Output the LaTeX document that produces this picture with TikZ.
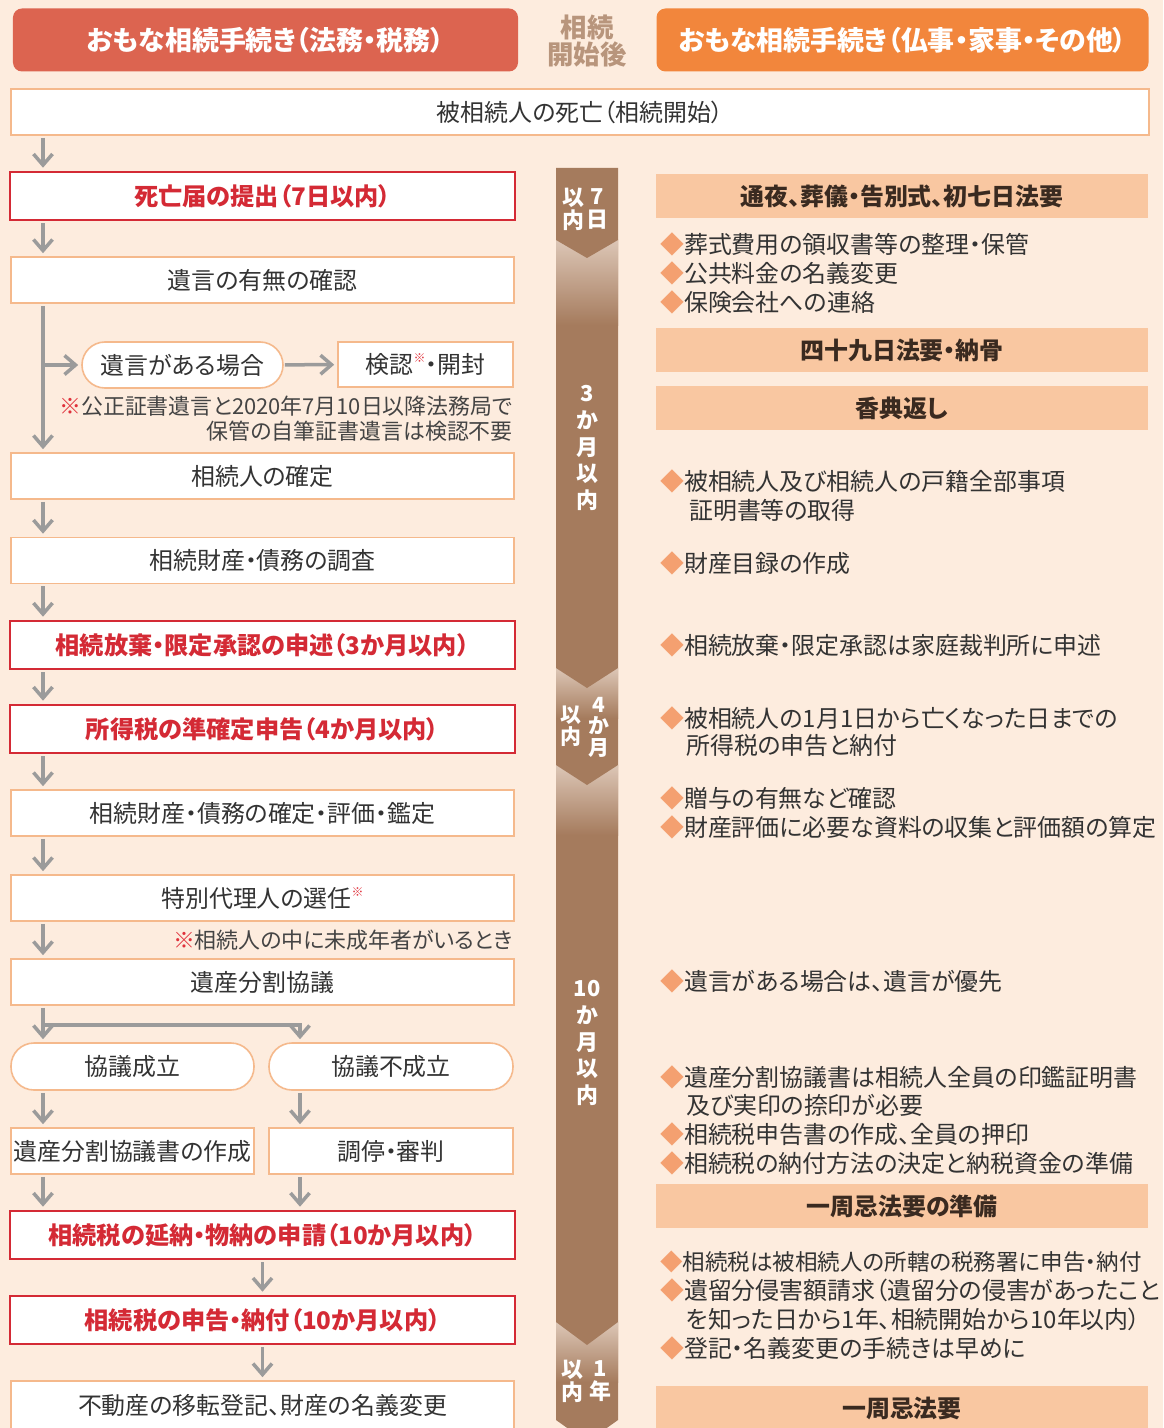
\documentclass[tikz,border=0pt]{standalone}
\usepackage{fontspec}
\setmainfont{Noto Sans CJK JP}[RawFeature=+palt]
\usepackage{tikz}
\usetikzlibrary{arrows.meta}

\definecolor{bgpeach}{HTML}{FDECDE}
\definecolor{lawhead}{HTML}{DC6450}
\definecolor{otherhead}{HTML}{F2863C}
\definecolor{startcol}{HTML}{B8957C}
\definecolor{boxline}{HTML}{F5B98C}
\definecolor{stepred}{HTML}{D42A35}
\definecolor{komered}{HTML}{E0303A}
\definecolor{flowgrey}{HTML}{9B9B9B}
\definecolor{textdark}{HTML}{333333}
\definecolor{notetext}{HTML}{444444}
\definecolor{evfill}{HTML}{F9C7A1}
\definecolor{evtext}{HTML}{3A2A20}
\definecolor{diam}{HTML}{F4A070}
\definecolor{barbrown}{HTML}{A57B5D}
\definecolor{barlight}{HTML}{DCC6B6}

\newcommand\kome{{\color{komered}※}}
\newcommand\supkome{\raisebox{.45em}{\fontsize{12}{12}\selectfont\color{komered}※}}
\newcommand\dia{{\color{diam}◆}}

\begin{document}
\begin{tikzpicture}[
    x=1bp, y=-1bp,
    every node/.style={text=textdark, inner sep=0pt},
    hdr/.style={rectangle, rounded corners=9bp, text=white, minimum height=63bp, font=\fontsize{27}{30}\selectfont\bfseries},
    stepbox/.style={rectangle, draw=boxline, line width=1.6bp, fill=white, minimum width=503bp, minimum height=46bp, font=\fontsize{24}{28}\selectfont},
    redbox/.style={stepbox, draw=stepred, line width=2.6bp, text=stepred, minimum width=505bp, minimum height=48bp, font=\fontsize{24.3}{28}\selectfont\bfseries},
    pill/.style={stepbox, rounded corners=23bp},
    evhd/.style={rectangle, fill=evfill, minimum width=492bp, minimum height=44bp, text=evtext, font=\fontsize{24}{28}\selectfont\bfseries},
    item/.style={anchor=west, font=\fontsize{24}{28}\selectfont},
    note/.style={anchor=east, text=notetext, font=\fontsize{22}{26}\selectfont},
    bartxt/.style={align=center, text=white, font=\fontsize{22}{23}\selectfont\bfseries},
    flow/.style={draw=flowgrey, line width=3.5bp, -{Straight Barb[length=11bp,width=19bp]}, shorten >=3bp, shorten <=2bp}
]
\useasboundingbox (0,0) rectangle (1163,1428);
\fill[bgpeach] (0,0) rectangle (1163,1428);

% Headers
\node[hdr, fill=lawhead, minimum width=505bp] (hlaw) at (265.5,40) {おもな相続手続き（法務・税務）};
\node[hdr, fill=otherhead, minimum width=492bp] (hother) at (902.5,40) {おもな相続手続き（仏事・家事・その他）};
\node[align=center, text=startcol, font=\fontsize{26.5}{28}\selectfont\bfseries] (after) at (587,41) {相続\\開始後};

% Start of inheritance
\node[stepbox, minimum width=1138bp] (start) at (580,112) {被相続人の死亡（相続開始）};

% Timeline bar
\foreach \ya/\yb/\yc/\fh in {1322/1420/1442/60, 765/1322/1345/70, 668/765/785/50, 240/668/688/85}{
  \fill[barbrown] (556,\ya) -- (618,\ya) -- (618,\yb) -- (587,\yc) -- (556,\yb) -- cycle;
  \shade[top color=barlight, bottom color=barbrown] (556,\ya) rectangle (618,\ya+\fh);
}
\fill[barbrown] (556,168) -- (618,168) -- (618,240) -- (587,258) -- (556,240) -- cycle;

\node[bartxt] (d7l) at (573,209) {以\\内};
\node[bartxt] (d7r) at (597,209) {7\\日};
\node[bartxt, font=\fontsize{22}{26.75}\selectfont\bfseries] (m3) at (587,448) {3\\か\\月\\以\\内};
\node[bartxt, font=\fontsize{21}{21.5}\selectfont\bfseries] (m4r) at (599,727) {4\\か\\月};
\node[bartxt, font=\fontsize{21}{21.5}\selectfont\bfseries] (m4l) at (571,726) {以\\内};
\node[bartxt, font=\fontsize{22}{26.75}\selectfont\bfseries] (m10) at (587,1043) {10\\か\\月\\以\\内};
\node[bartxt] (y1l) at (572,1381) {以\\内};
\node[bartxt] (y1r) at (600,1381) {1\\年};

% Legal and tax steps
\node[redbox] (deathreg) at (262.5,196) {死亡届の提出（7日以内）};
\node[stepbox] (willchk) at (262.5,280) {遺言の有無の確認};
\node[pill, minimum width=201bp] (haswill) at (182.5,365) {遺言がある場合};
\node[stepbox, minimum width=175bp, minimum height=45bp] (probate) at (425.5,364.5) {検認\supkome・開封};
\node[note] (note1a) at (513,406) {\kome 公正証書遺言と2020年7月10日以降法務局で};
\node[note] (note1b) at (513,431) {保管の自筆証書遺言は検認不要};
\node[stepbox] (heirs) at (262.5,476) {相続人の確定};
\node[stepbox] (survey) at (262.5,560.5) {相続財産・債務の調査};
\node[redbox] (renounce) at (262.5,645) {相続放棄・限定承認の申述（3か月以内）};
\node[redbox] (incometax) at (262.5,729) {所得税の準確定申告（4か月以内）};
\node[stepbox] (valuation) at (262.5,813) {相続財産・債務の確定・評価・鑑定};
\node[stepbox] (agent) at (262.5,898) {特別代理人の選任\supkome};
\node[note] (note2) at (513,940) {\kome 相続人の中に未成年者がいるとき};
\node[stepbox] (division) at (262.5,982) {遺産分割協議};
\node[pill, minimum width=243bp, minimum height=47bp] (agreed) at (132.5,1066.5) {協議成立};
\node[pill, minimum width=244bp, minimum height=47bp] (disagreed) at (391,1066.5) {協議不成立};
\node[stepbox, minimum width=243bp] (deed) at (132.5,1151) {遺産分割協議書の作成};
\node[stepbox, minimum width=244bp] (mediation) at (391,1151) {調停・審判};
\node[redbox] (deferral) at (262.5,1235) {相続税の延納・物納の申請（10か月以内）};
\node[redbox] (taxreturn) at (262.5,1320) {相続税の申告・納付（10か月以内）};
\node[stepbox, minimum height=48bp] (registry) at (262.5,1405) {不動産の移転登記、財産の名義変更};

% Arrows
\coordinate (lane) at (43,0);
\coordinate (rlane) at (300,0);
\coordinate (split) at (43,1025);
\draw[flow] (start.south -| lane) -- (deathreg.north -| lane);
\draw[flow] (deathreg.south -| lane) -- (willchk.north -| lane);
\draw[flow] (willchk.south -| lane) -- (heirs.north -| lane);
\draw[flow, shorten <=0pt] (haswill.west -| lane) -- (haswill.west);
\draw[flow, shorten <=1bp] (haswill) -- (probate);
\draw[flow] (heirs.south -| lane) -- (survey.north -| lane);
\draw[flow] (survey.south -| lane) -- (renounce.north -| lane);
\draw[flow] (renounce.south -| lane) -- (incometax.north -| lane);
\draw[flow] (incometax.south -| lane) -- (valuation.north -| lane);
\draw[flow] (valuation.south -| lane) -- (agent.north -| lane);
\draw[flow] (agent.south -| lane) -- (division.north -| lane);
\draw[flow] (division.south -| lane) -- (agreed.north -| lane);
\draw[flow, shorten <=0pt] (split) -| (disagreed.north -| rlane);
\draw[flow] (agreed.south -| lane) -- (deed.north -| lane);
\draw[flow] (disagreed.south -| rlane) -- (mediation.north -| rlane);
\draw[flow] (deed.south -| lane) -- (deferral.north -| lane);
\draw[flow] (mediation.south -| rlane) -- (deferral.north -| rlane);
\draw[flow] (deferral) -- (taxreturn);
\draw[flow] (taxreturn) -- (registry);

% Memorial and household steps
\node[evhd] (ev1) at (902,196) {通夜、葬儀・告別式、初七日法要};
\node[evhd] (ev2) at (902,350) {四十九日法要・納骨};
\node[evhd] (ev3) at (902,408) {香典返し};
\node[evhd] (ev4) at (902,1206) {一周忌法要の準備};
\node[evhd] (ev5) at (902,1408) {一周忌法要};

\foreach \x/\y/\t in {
    660/244/{\dia 葬式費用の領収書等の整理・保管},
    660/273/{\dia 公共料金の名義変更},
    660/302/{\dia 保険会社への連絡},
    660/481/{\dia 被相続人及び相続人の戸籍全部事項},
    689/510/{証明書等の取得},
    660/563/{\dia 財産目録の作成},
    660/645/{\dia 相続放棄・限定承認は家庭裁判所に申述},
    660/718/{\dia 被相続人の1月1日から亡くなった日までの},
    686/746/{所得税の申告と納付},
    660/798/{\dia 贈与の有無など確認},
    660/827/{\dia 財産評価に必要な資料の収集と評価額の算定},
    660/981/{\dia 遺言がある場合は、遺言が優先},
    660/1077/{\dia 遺産分割協議書は相続人全員の印鑑証明書},
    686/1105/{及び実印の捺印が必要},
    660/1134/{\dia 相続税申告書の作成、全員の押印},
    660/1163/{\dia 相続税の納付方法の決定と納税資金の準備},
    660/1262/{\fontsize{22.6}{28}\selectfont\dia 相続税は被相続人の所轄の税務署に申告・納付},
    660/1290/{\dia 遺留分侵害額請求（遺留分の侵害があったこと},
    686/1319/{を知った日から1年、相続開始から10年以内）},
    660/1348/{\dia 登記・名義変更の手続きは早めに}}
  \node[item] (it\y) at (\x,\y) {\t};
\end{tikzpicture}
\end{document}
